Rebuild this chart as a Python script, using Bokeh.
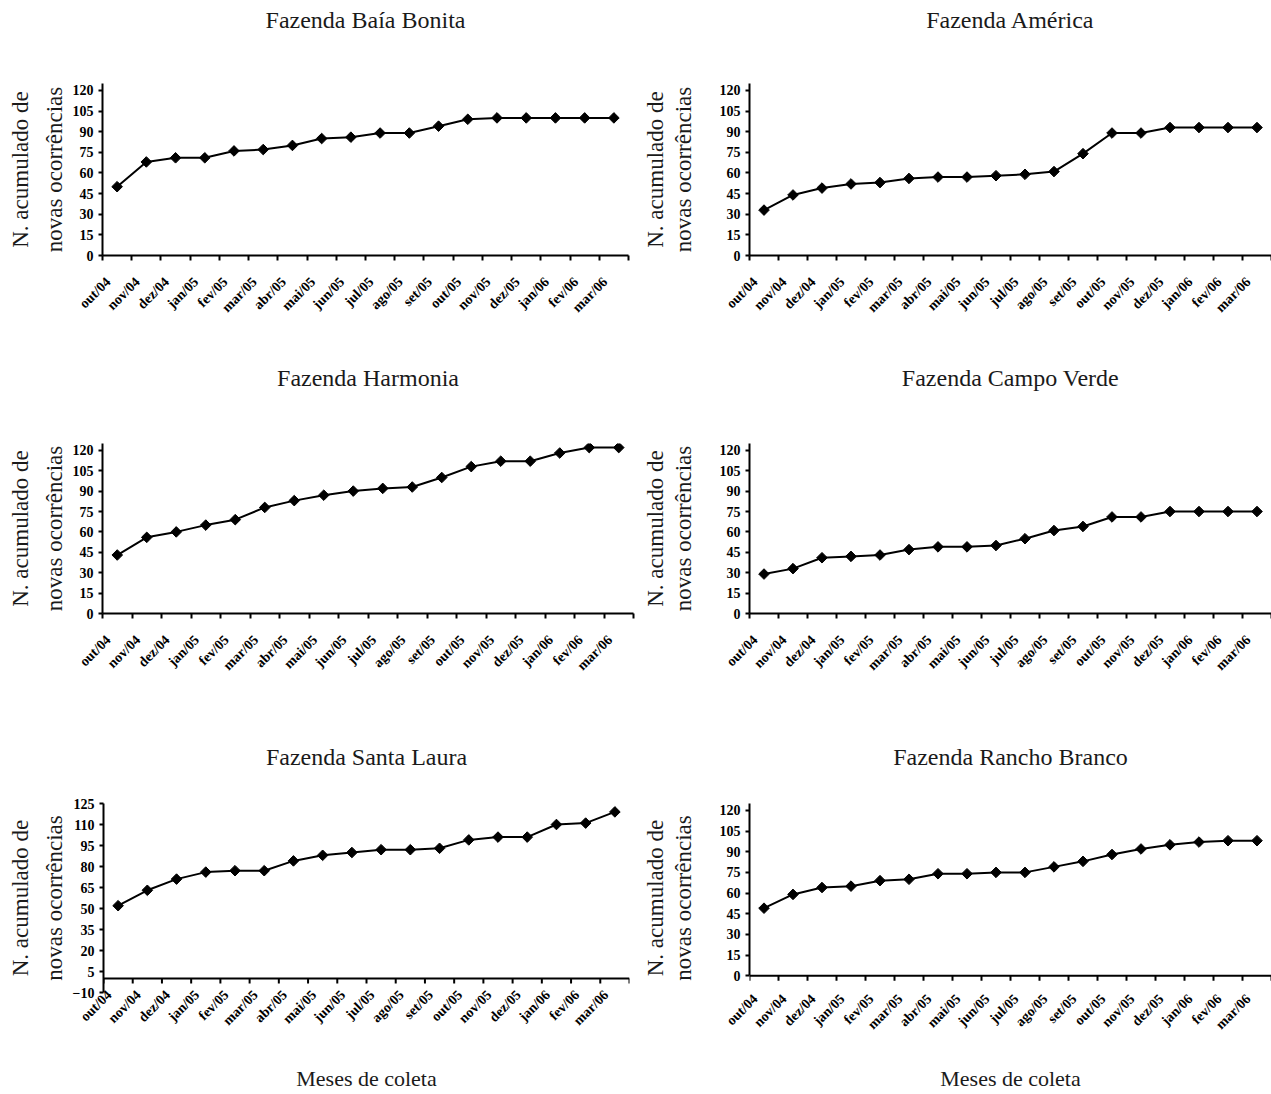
import numpy as np
from bokeh.plotting import figure
from bokeh.models import FixedTicker, LinearAxis, Title, Range1d, Span
from bokeh.layouts import column, row
from bokeh.embed import file_html
from bokeh.resources import INLINE

months = ["out/04", "nov/04", "dez/04", "jan/05", "fev/05", "mar/05", "abr/05", "mai/05",
          "jun/05", "jul/05", "ago/05", "set/05", "out/05", "nov/05", "dez/05", "jan/06",
          "fev/06", "mar/06"]

baia_bonita = [50, 68, 71, 71, 76, 77, 80, 85, 86, 89, 89, 94, 99, 100, 100, 100, 100, 100]
america = [33, 44, 49, 52, 53, 56, 57, 57, 58, 59, 61, 74, 89, 89, 93, 93, 93, 93]
harmonia = [43, 56, 60, 65, 69, 78, 83, 87, 90, 92, 93, 100, 108, 112, 112, 118, 122, 122]
campo_verde = [29, 33, 41, 42, 43, 47, 49, 49, 50, 55, 61, 64, 71, 71, 75, 75, 75, 75]
santa_laura = [52, 63, 71, 76, 77, 77, 84, 88, 90, 92, 92, 93, 99, 101, 101, 110, 111, 119]
rancho_branco = [49, 59, 64, 65, 69, 70, 74, 74, 75, 75, 79, 83, 88, 92, 95, 97, 98, 98]

yticks_std = [0, 15, 30, 45, 60, 75, 90, 105, 120]
yticks_sl = [-10, 5, 20, 35, 50, 65, 80, 95, 110, 125]

titles = ["Fazenda Baía Bonita", "Fazenda América", "Fazenda Harmonia",
          "Fazenda Campo Verde", "Fazenda Santa Laura", "Fazenda Rancho Branco"]
ylabel1 = "N. acumulado de"
ylabel2 = "novas ocorrências"
xlabel_text = "Meses de coleta"

FONT = "Liberation Serif"
LAB = 0.2  # label anchor offset within category


def make(title, vals, yticks, ymin, ymax, W, H, left, right, top, fh,
         ylab_standoff, ytitle_standoff, title_gap, xlabel_standoff=None,
         zero_axis=False, label_standoff=0, ybounds=None):
    bottom = H - top - fh
    n = len(vals)
    p = figure(width=W, height=H, x_range=Range1d(-LAB, n - LAB),
               y_range=Range1d(ymin, ymax), output_backend="svg",
               toolbar_location=None, title=None, min_border_left=left,
               min_border_right=right, min_border_top=top,
               min_border_bottom=bottom)
    p.outline_line_color = None
    p.grid.visible = False
    p.background_fill_color = "white"
    p.border_fill_color = "white"
    xa = p.below[0]
    ya = p.left[0]

    x = [i + 0.5 - LAB for i in range(n)]
    bounds = [k - LAB for k in range(n + 1)]

    if zero_axis:
        # category axis crossing at y = 0, tick marks pointing down (5 px)
        p.add_layout(Span(location=0, dimension="width", line_color="black",
                          line_width=2))
        tick_len = 5.0 * (ymax - ymin) / fh
        p.segment(x0=bounds, y0=[0] * len(bounds), x1=bounds,
                  y1=[-tick_len] * len(bounds), line_color="black", line_width=2)

    p.line(x, vals, line_width=2, color="black")
    p.scatter(x, vals, marker="square", angle=np.pi / 4, size=7.5, color="black")

    # y axis
    ya.ticker = FixedTicker(ticks=yticks)
    if ybounds is not None:
        ya.bounds = ybounds
    ya.axis_line_width = 2
    ya.major_tick_line_width = 2
    ya.major_tick_in = 0
    ya.major_tick_out = 4
    ya.minor_tick_line_color = None
    ya.major_label_standoff = 5
    ya.major_label_text_font = FONT
    ya.major_label_text_font_size = "14px"
    ya.major_label_text_font_style = "bold"
    ya.major_label_text_color = "black"
    ya.axis_label = ylabel2
    ya.axis_label_text_font = FONT
    ya.axis_label_text_font_size = "23px"
    ya.axis_label_text_font_style = "normal"
    ya.axis_label_text_color = "#1a1a1a"
    ya.axis_label_standoff = ylab_standoff

    # x axis
    xa.ticker = FixedTicker(ticks=list(range(n)), minor_ticks=bounds)
    xa.major_label_overrides = {i: months[i] for i in range(n)}
    xa.major_label_orientation = np.pi / 4
    xa.major_label_text_font = FONT
    xa.major_label_text_font_size = "14px"
    xa.major_label_text_font_style = "bold"
    xa.major_label_text_color = "black"
    xa.major_tick_line_color = None
    xa.major_tick_out = 0
    xa.major_tick_in = 0
    if zero_axis:
        xa.axis_line_color = None
        xa.minor_tick_line_color = None
        xa.minor_tick_out = 0
        xa.minor_tick_in = 0
        xa.major_label_standoff = label_standoff
    else:
        xa.axis_line_width = 2
        xa.minor_tick_line_width = 2
        xa.minor_tick_out = 5
        xa.minor_tick_in = 0
        xa.major_label_standoff = 19
    if xlabel_standoff is not None:
        xa.axis_label = xlabel_text
        xa.axis_label_text_font = FONT
        xa.axis_label_text_font_size = "22px"
        xa.axis_label_text_font_style = "normal"
        xa.axis_label_text_color = "#1a1a1a"
        xa.axis_label_standoff = xlabel_standoff

    # left title (first line of the y label)
    p.add_layout(Title(text=ylabel1, align="center", text_font=FONT,
                       text_font_size="23px", text_font_style="normal",
                       text_color="#1a1a1a", standoff=ytitle_standoff), "left")

    # invisible spacer between frame and title, then the title
    mid = n // 2
    spacer = LinearAxis(ticker=FixedTicker(ticks=[mid]), axis_line_color=None,
                        major_tick_line_color="white", minor_tick_line_color=None,
                        major_tick_out=title_gap, major_tick_in=0,
                        minor_tick_out=0, minor_tick_in=0,
                        major_label_overrides={mid: ""},
                        major_label_text_font_size="1px",
                        major_label_text_color="white",
                        major_label_standoff=0, axis_label_standoff=0)
    p.add_layout(spacer, "above")
    p.add_layout(Title(text=title, align="center", text_font=FONT,
                       text_font_size="24px", text_font_style="normal",
                       text_color="#1a1a1a", standoff=0), "above")
    return p


# left column: width 640, right column: width 631
p1 = make(titles[0], baia_bonita, yticks_std, 0, 125, 640, 362, 100, 12, 83, 172, 3, 11, 51)
p2 = make(titles[1], america, yticks_std, 0, 125, 631, 362, 104, 0, 83, 173, 21, 0, 51)
p3 = make(titles[2], harmonia, yticks_std, 0, 125, 640, 378, 98, 7, 81, 170, 3, 11, 53)
p4 = make(titles[3], campo_verde, yticks_std, 0, 125, 631, 378, 104, 0, 81, 170, 21, 0, 53)
p5 = make(titles[4], santa_laura, yticks_sl, -10, 125, 640, 354, 100, 11, 63, 189, 3, 11, 34,
          xlabel_standoff=30, zero_axis=True, label_standoff=0)
p6 = make(titles[5], rancho_branco, yticks_std, -12.2, 125, 631, 354, 105, 0, 63, 189, 21, 0,
          34, xlabel_standoff=26, zero_axis=True, label_standoff=4, ybounds=(0, 125))

layout = column(row(p1, p2), row(p3, p4), row(p5, p6))
open("out.html", "w").write(file_html(layout, INLINE))
